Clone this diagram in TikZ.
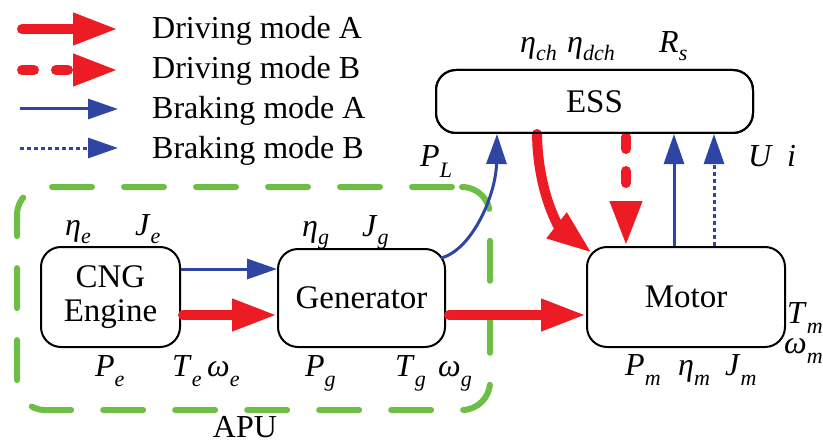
\documentclass[tikz,border=0pt]{standalone}
\usepackage{fontspec}
\newfontfamily\fa{Liberation Serif}
\usetikzlibrary{arrows.meta}
\definecolor{cred}{RGB}{237,28,36}
\definecolor{cblue}{RGB}{47,69,163}
\definecolor{cgreen}{RGB}{108,190,68}
\newcommand\symb[3][10pt]{\textit{#2}\raisebox{-#1}{\fontsize{22}{22}\selectfont\textit{#3}}}
\tikzset{
  blk/.style={draw=black,line width=2pt,rounded corners=20pt,fill=white,inner sep=0pt,
    font=\fontsize{33}{38}\selectfont\fa,align=center},
  lbl/.style={anchor=base west,inner sep=0pt,font=\fontsize{32}{36}\selectfont\fa},
  redA/.style={draw=cred,line width=10pt,line cap=round,-{Triangle[length=45pt,width=30pt]}},
  redB/.style={redA,dash pattern=on 12pt off 22pt},
  blueA/.style={draw=cblue,line width=3pt,-{Triangle[length=30pt,width=20pt]}},
  blueB/.style={blueA,dash pattern=on 4pt off 3pt},
}
\begin{document}
\begin{tikzpicture}[x=1pt,y=-1pt]
\useasboundingbox (0,0) rectangle (823,444);
% legend
\coordinate (l1a) at (22,29);  \coordinate (l1b) at (118,29);
\coordinate (l2a) at (22,70);  \coordinate (l2b) at (118,70);
\coordinate (l3a) at (20,109); \coordinate (l3b) at (118,109);
\coordinate (l4a) at (20,148); \coordinate (l4b) at (118,148);
\draw[redA] (l1a) -- (l1b);
\draw[redB] (l2a) -- (l2b);
\draw[blueA] (l3a) -- (l3b);
\draw[blueB] (l4a) -- (l4b);
\node[lbl] (t1) at (152,39) {Driving mode A};
\node[lbl] (t2) at (152,79) {Driving mode B};
\node[lbl] (t3) at (152,119) {Braking mode A};
\node[lbl] (t4) at (152,158) {Braking mode B};
% APU group
\node[draw=cgreen,line width=6pt,line cap=round,dash pattern=on 40pt off 32pt,dash phase=-10pt,
  rounded corners=28pt,minimum width=473pt,minimum height=223pt,inner sep=0pt] (apu) at (253.5,298.5) {};
\node[lbl,anchor=base] (apul) at (245,437) {APU};
% blocks
\node[blk,minimum width=139pt,minimum height=100pt] (eng) at (110.5,297) {CNG\\[-4pt]Engine};
\node[blk,minimum width=167pt,minimum height=98pt] (gen) at (361.5,298) {Generator};
\node[blk,minimum width=198pt,minimum height=100pt] (mot) at (686,297) {Motor};
\node[blk,minimum width=317pt,minimum height=63pt] (ess) at (594.5,101.5) {ESS};
% connectors
\coordinate (gcorner) at (441,258);
\coordinate (mcorner) at (592,253);
\draw[blueA] (eng.east |- 0,269) -- (gen.west |- 0,269);
\draw[redA] ([xshift=2pt]eng.east |- 0,315) -- (gen.west |- 0,315);
\draw[redA] ([xshift=3pt]gen.east |- 0,315) -- (mot.west |- 0,315);
\draw[blueA] (gcorner) .. controls (472,250) and (496,195) .. (ess.south -| 497,0);
\draw[redA] (ess.south -| 537,0) .. controls (538,195) and (560,228) .. (mcorner);
\draw[redB,dash phase=-3pt] (ess.south -| 626,0) -- (mot.north -| 626,0);
\draw[blueA] (mot.north -| 674,0) -- (ess.south -| 674,0);
\draw[blueB] (mot.north -| 714,0) -- (ess.south -| 714,0);
\node[draw=black,line width=2pt,rounded corners=20pt,inner sep=0pt,minimum width=317pt,minimum height=63pt] (essb) at (ess.center) {};
% labels
\node[lbl] (le1) at (65,235) {\symb[8pt]{η}{e}};
\node[lbl] (le2) at (135,235) {\symb[8pt]{J}{e}};
\node[lbl] (lg1) at (302,236) {\symb[8pt]{η}{g}};
\node[lbl] (lg2) at (362,236) {\symb[8pt]{J}{g}};
\node[lbl] (pe) at (95,376) {\symb{P}{e}};
\node[lbl] (te) at (172,376) {\symb{T}{e}};
\node[lbl] (we) at (207,376) {\symb{ω}{e}};
\node[lbl] (pg) at (305,376) {\symb{P}{g}};
\node[lbl] (tg) at (395,376) {\symb{T}{g}};
\node[lbl] (wg) at (438,376) {\symb{ω}{g}};
\node[lbl] (pm) at (625,375) {\symb{P}{m}};
\node[lbl] (em) at (678,375) {\symb{η}{m}};
\node[lbl] (jm) at (725,375) {\symb{J}{m}};
\node[lbl] (tm) at (787,323) {\symb{T}{m}};
\node[lbl] (wm) at (784,353) {\symb{ω}{m}};
\node[lbl] (ech) at (520,53) {\symb[8pt]{η}{ch}};
\node[lbl] (edch) at (567,53) {\symb[8pt]{η}{dch}};
\node[lbl] (rs) at (659,53) {\symb[8pt]{R}{s}};
\node[lbl] (pl) at (420,166) {\symb[11pt]{P}{L}};
\node[lbl] (uu) at (748,167) {\textit{U}};
\node[lbl] (ii) at (787,167) {\textit{i}};
\end{tikzpicture}
\end{document}
